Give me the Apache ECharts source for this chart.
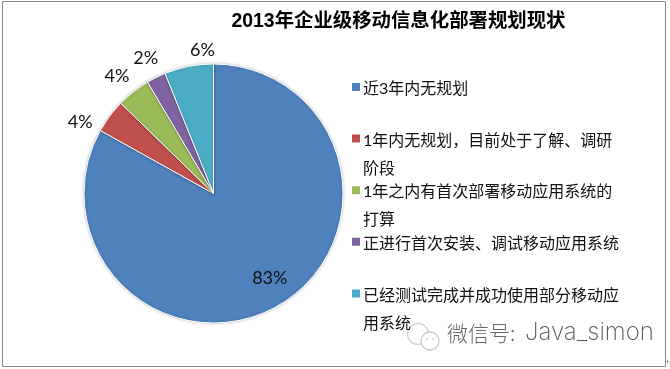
<!DOCTYPE html>
<html><head><meta charset="utf-8">
<style>html,body{margin:0;padding:0;background:#fff}#c{width:670px;height:369px}</style>
<script src="https://cdn.jsdelivr.net/npm/echarts@6/dist/echarts.min.js"></script>
</head><body><div id="c"></div>
<script>
const titleText = '2013年企业级移动信息化部署规划现状';
const categories = ['近3年内无规划','1年内无规划，目前处于了解、调研\n阶段','1年之内有首次部署移动应用系统的\n打算','正进行首次安装、调试移动应用系统','已经测试完成并成功使用部分移动应\n用系统'];
const values = [83, 4.2, 4.2, 2.4, 6.1];
const colors = ['#4f81bd','#c0504d','#9bbb59','#8064a2','#4bacc6'];
const watermarkCn = '微信号:';
const watermarkEn = 'Java_simon';
const cjk = '"Lato","Noto Sans CJK SC",sans-serif';
const icon = 'path://M0 0L0 0 M0 7H10V17H0Z M0 56L0 56';
const shifts = [[22,26],[-12,6],[1,-16],[7,-19],[31,-16]];
const chart = echarts.init(document.getElementById('c'), null, {renderer:'canvas'});
chart.setOption({
  animation:false,
  backgroundColor:'#fff',
  title:{text:titleText,left:393.5,top:7,textAlign:'center',textStyle:{fontFamily:'"Liberation Sans","Noto Sans CJK SC",sans-serif',fontSize:19.4,fontWeight:'bold',color:'#000'}},
  legend:{
    orient:'vertical',left:350,top:74,padding:0,itemGap:-6.4,itemWidth:10,itemHeight:56,icon:icon,
    selectedMode:false,
    formatter:n=>n.includes('\n')?n:n+'\n ',
    textStyle:{fontFamily:cjk,fontSize:16,lineHeight:28,color:'#111',padding:[0,0,0,-3]},
    data:categories
  },
  series:[{
    type:'pie',center:[213.5,193.5],radius:[0,129.5],startAngle:90,clockwise:true,
    avoidLabelOverlap:false,
    itemStyle:{borderColor:'#fff',borderWidth:1,shadowBlur:3,shadowColor:'rgba(0,0,0,0.25)'},
    label:{show:true,position:'outside',distance:6,formatter:p=>Math.round(p.value)+'%',fontFamily:'"Lato",sans-serif',fontSize:18,color:'#111'},
    labelLine:{show:false,length:0,length2:0},
    labelLayout:p=>({dx:shifts[p.dataIndex][0],dy:shifts[p.dataIndex][1]}),
    data:categories.map((n,i)=>({name:n,value:values[i],itemStyle:{color:colors[i]},
      label:i===0?{position:'inside'}:undefined}))
  }],
  graphic:[
    {type:'rect',z:-1,shape:{x:2.5,y:1.5,width:663,height:365},style:{fill:'#fff',stroke:'#8a8a8a',lineWidth:1}},
    {type:'text',left:447,top:323,style:{text:watermarkCn,fontFamily:'"Noto Sans CJK SC",sans-serif',fontWeight:300,fontSize:21,fill:'#666'}},
    {type:'text',left:525,top:321,style:{text:watermarkEn,fontFamily:'"Inter",sans-serif',fontWeight:200,fontSize:24,fill:'#555'}},
    {type:'circle',shape:{cx:418,cy:334,r:10.5},style:{fill:'rgba(255,255,255,0.6)',stroke:'#d4d4d4',lineWidth:1.3}},
    {type:'circle',shape:{cx:430,cy:341,r:9},style:{fill:'#fff',stroke:'#c8c8c8',lineWidth:1.3}},
    {type:'circle',shape:{cx:427,cy:339,r:1},style:{fill:'#d0d0d0'}},
    {type:'circle',shape:{cx:433,cy:339,r:1},style:{fill:'#d0d0d0'}},
    {type:'text',left:665,top:358,style:{text:'+',fontSize:9,fill:'#888',fontFamily:'"Liberation Sans",sans-serif'}}
  ]
});
</script></body></html>
